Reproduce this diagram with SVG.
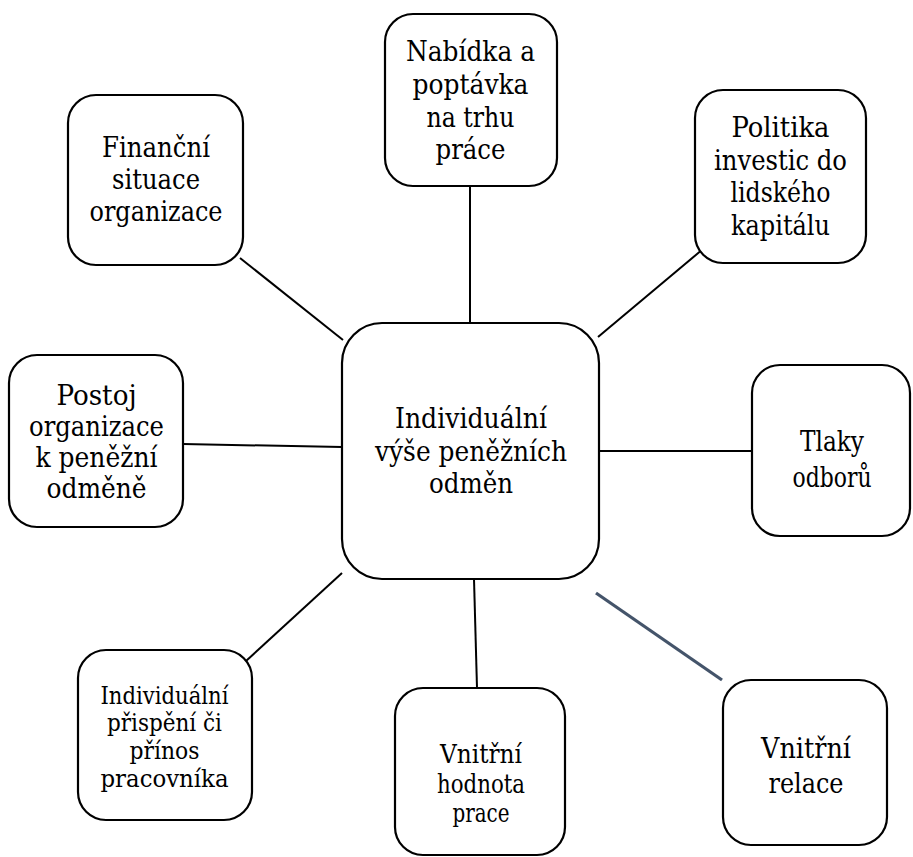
<svg xmlns="http://www.w3.org/2000/svg" width="913" height="857" viewBox="0 0 913 857">
<style>
.box{fill:#fff;stroke:#000;stroke-width:2.2}
.t{font-family:"DejaVu Serif Condensed","DejaVu Serif","Liberation Serif",serif;fill:#000;text-anchor:middle}
.c{stroke:#000;stroke-width:2;fill:none}
.c2{stroke:#44546a;stroke-width:3.2;fill:none}
</style>
<rect width="913" height="857" fill="#fff"/>
<g id="connectors">
<line class="c" x1="240" y1="258" x2="343" y2="340"/>
<line class="c" x1="470" y1="186" x2="470" y2="323"/>
<line class="c" x1="703" y1="249" x2="598" y2="337"/>
<line class="c" x1="183" y1="444" x2="342" y2="447"/>
<line class="c" x1="599" y1="451" x2="752" y2="451"/>
<line class="c" x1="246" y1="661" x2="342" y2="573"/>
<line class="c" x1="474" y1="579" x2="477" y2="688"/>
<line class="c2" x1="596" y1="593" x2="722" y2="680"/>
</g>
<g id="center">
<rect class="box" x="342" y="323" width="257" height="256" rx="40"/>
<text class="t" font-size="28" x="471" y="427.5" textLength="152" lengthAdjust="spacingAndGlyphs">Individuální</text>
<text class="t" font-size="28" x="471" y="460.5" textLength="192" lengthAdjust="spacingAndGlyphs">výše peněžních</text>
<text class="t" font-size="28" x="471" y="493" textLength="84" lengthAdjust="spacingAndGlyphs">odměn</text>
</g>
<g id="financni">
<rect class="box" x="68" y="95" width="175" height="170" rx="28"/>
<text class="t" font-size="27.7" x="156" y="157" textLength="108" lengthAdjust="spacingAndGlyphs">Finanční</text>
<text class="t" font-size="27.7" x="156" y="189" textLength="88" lengthAdjust="spacingAndGlyphs">situace</text>
<text class="t" font-size="27.7" x="156" y="221" textLength="133" lengthAdjust="spacingAndGlyphs">organizace</text>
</g>
<g id="nabidka">
<rect class="box" x="385" y="14" width="172" height="172" rx="28"/>
<text class="t" font-size="28.6" x="470.5" y="61" textLength="129" lengthAdjust="spacingAndGlyphs">Nabídka a</text>
<text class="t" font-size="28.6" x="470.5" y="93.5" textLength="116" lengthAdjust="spacingAndGlyphs">poptávka</text>
<text class="t" font-size="28.6" x="470.5" y="126.5" textLength="88" lengthAdjust="spacingAndGlyphs">na trhu</text>
<text class="t" font-size="28.6" x="470.5" y="159" textLength="70" lengthAdjust="spacingAndGlyphs">práce</text>
</g>
<g id="politika">
<rect class="box" x="695" y="90" width="171" height="173" rx="28"/>
<text class="t" font-size="27.8" x="780.5" y="137" textLength="98" lengthAdjust="spacingAndGlyphs">Politika</text>
<text class="t" font-size="27.8" x="780.5" y="169.5" textLength="133" lengthAdjust="spacingAndGlyphs">investic do</text>
<text class="t" font-size="27.8" x="780.5" y="202" textLength="100" lengthAdjust="spacingAndGlyphs">lidského</text>
<text class="t" font-size="27.8" x="780.5" y="234.5" textLength="99" lengthAdjust="spacingAndGlyphs">kapitálu</text>
</g>
<g id="postoj">
<rect class="box" x="9" y="355" width="174" height="172" rx="28"/>
<text class="t" font-size="28.6" x="96.5" y="404.5" textLength="80" lengthAdjust="spacingAndGlyphs">Postoj</text>
<text class="t" font-size="28.6" x="96.5" y="436" textLength="135" lengthAdjust="spacingAndGlyphs">organizace</text>
<text class="t" font-size="28.6" x="96.5" y="467" textLength="122" lengthAdjust="spacingAndGlyphs">k peněžní</text>
<text class="t" font-size="28.6" x="96.5" y="498" textLength="100" lengthAdjust="spacingAndGlyphs">odměně</text>
</g>
<g id="tlaky">
<rect class="box" x="752" y="365" width="158" height="171" rx="28"/>
<text class="t" font-size="27" x="832" y="451" textLength="64" lengthAdjust="spacingAndGlyphs">Tlaky</text>
<text class="t" font-size="27" x="832" y="487" textLength="79" lengthAdjust="spacingAndGlyphs">odborů</text>
</g>
<g id="prispeni">
<rect class="box" x="78" y="650" width="174" height="170" rx="28"/>
<text class="t" font-size="24.5" x="164.5" y="704" textLength="128" lengthAdjust="spacingAndGlyphs">Individuální</text>
<text class="t" font-size="24.5" x="164.5" y="731" textLength="115" lengthAdjust="spacingAndGlyphs">přispění či</text>
<text class="t" font-size="24.5" x="164.5" y="759" textLength="70" lengthAdjust="spacingAndGlyphs">přínos</text>
<text class="t" font-size="24.5" x="164.5" y="787" textLength="128" lengthAdjust="spacingAndGlyphs">pracovníka</text>
</g>
<g id="hodnota">
<rect class="box" x="395" y="688" width="170" height="167" rx="28"/>
<text class="t" font-size="25.4" x="481" y="763" textLength="82" lengthAdjust="spacingAndGlyphs">Vnitřní</text>
<text class="t" font-size="25.4" x="481" y="792.5" textLength="88" lengthAdjust="spacingAndGlyphs">hodnota</text>
<text class="t" font-size="25.4" x="481" y="822" textLength="57" lengthAdjust="spacingAndGlyphs">prace</text>
</g>
<g id="relace">
<rect class="box" x="723" y="680" width="164" height="165" rx="28"/>
<text class="t" font-size="28" x="806" y="758" textLength="90" lengthAdjust="spacingAndGlyphs">Vnitřní</text>
<text class="t" font-size="28" x="806" y="793" textLength="75" lengthAdjust="spacingAndGlyphs">relace</text>
</g>
</svg>
